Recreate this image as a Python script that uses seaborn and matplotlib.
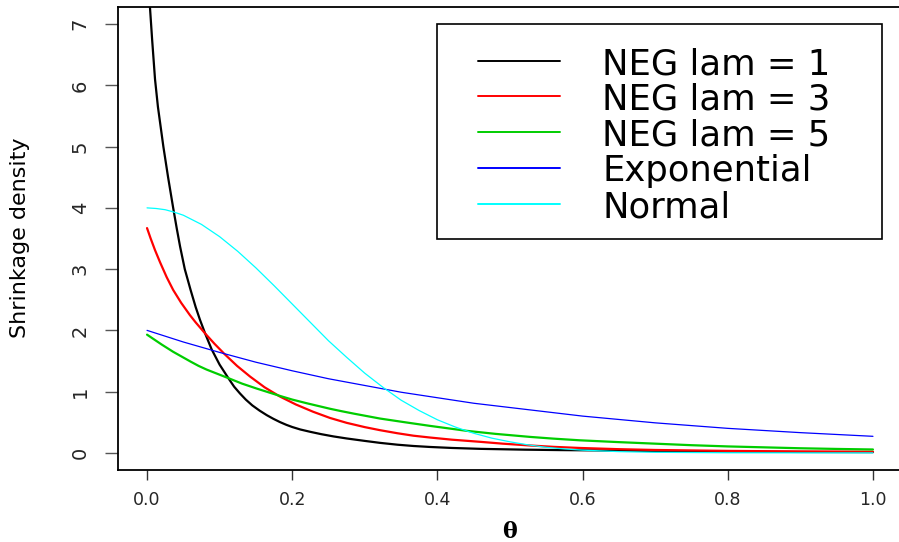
import matplotlib
matplotlib.use("Agg")
import matplotlib.pyplot as plt
from matplotlib import font_manager
from matplotlib.lines import Line2D
from matplotlib.patches import Rectangle
import seaborn as sns

# ---------------- data ----------------
theta_neg1 = [0.0, 0.002, 0.004, 0.007, 0.011, 0.015, 0.0225, 0.029, 0.036, 0.041,
              0.0455, 0.052, 0.06, 0.067, 0.073, 0.080, 0.089, 0.10, 0.112, 0.12,
              0.128, 0.136, 0.145, 0.155, 0.165, 0.174, 0.183, 0.192, 0.2, 0.211,
              0.225, 0.24, 0.257, 0.275, 0.3, 0.321, 0.345, 0.367, 0.39, 0.42,
              0.46, 0.52, 0.57, 0.62, 0.7, 0.8, 0.9, 1.0]
dens_neg1 = [8.3, 7.75, 7.28, 6.75, 6.10, 5.65, 5.0, 4.50, 4.0, 3.66,
             3.37, 3.0, 2.66, 2.38, 2.17, 1.95, 1.69, 1.44, 1.22, 1.08,
             0.97, 0.87, 0.775, 0.69, 0.615, 0.556, 0.503, 0.457, 0.422, 0.382,
             0.343, 0.305, 0.268, 0.235, 0.195, 0.163, 0.133, 0.112, 0.096, 0.08,
             0.065, 0.052, 0.045, 0.04, 0.03, 0.02, 0.015, 0.012]

theta_neg3 = [0.0, 0.005, 0.011, 0.018, 0.027, 0.036, 0.047, 0.059, 0.067, 0.080,
              0.093, 0.107, 0.124, 0.142, 0.162, 0.183, 0.205, 0.229, 0.252, 0.275,
              0.3, 0.321, 0.345, 0.367, 0.39, 0.42, 0.459, 0.49, 0.528, 0.56,
              0.596, 0.65, 0.7, 0.8, 0.9, 1.0]
dens_neg3 = [3.67, 3.50, 3.31, 3.11, 2.87, 2.66, 2.45, 2.25, 2.13, 1.95,
             1.78, 1.61, 1.42, 1.245, 1.07, 0.92, 0.79, 0.67, 0.57, 0.49,
             0.42, 0.37, 0.32, 0.28, 0.25, 0.215, 0.18, 0.15, 0.12, 0.098,
             0.08, 0.06, 0.047, 0.032, 0.023, 0.018]

theta_neg5 = [0.0, 0.01, 0.02, 0.036, 0.048, 0.06, 0.071, 0.082, 0.097, 0.112,
              0.131, 0.151, 0.167, 0.183, 0.2, 0.22, 0.236, 0.252, 0.268, 0.285,
              0.303, 0.321, 0.355, 0.39, 0.415, 0.44, 0.48, 0.528, 0.56, 0.596,
              0.65, 0.7, 0.75, 0.8, 0.85, 0.9, 0.95, 1.0]
dens_neg5 = [1.93, 1.85, 1.77, 1.65, 1.57, 1.49, 1.42, 1.36, 1.29, 1.22,
             1.13, 1.05, 0.99, 0.93, 0.87, 0.81, 0.765, 0.72, 0.68, 0.64,
             0.60, 0.56, 0.50, 0.44, 0.40, 0.36, 0.31, 0.26, 0.232, 0.205,
             0.175, 0.15, 0.125, 0.105, 0.09, 0.075, 0.064, 0.055]

theta_exp = [0.0, 0.05, 0.1, 0.15, 0.2, 0.25, 0.3, 0.35, 0.4, 0.45, 0.5,
             0.55, 0.6, 0.65, 0.7, 0.75, 0.8, 0.85, 0.9, 0.95, 1.0]
dens_exp = [2.0, 1.81, 1.64, 1.48, 1.34, 1.21, 1.10, 0.99, 0.90, 0.81, 0.74,
            0.67, 0.60, 0.545, 0.49, 0.445, 0.40, 0.365, 0.33, 0.30, 0.27]

theta_norm = [0.0, 0.0125, 0.025, 0.0375, 0.05, 0.075, 0.1, 0.125, 0.15, 0.175,
              0.2, 0.225, 0.25, 0.275, 0.3, 0.325, 0.35, 0.375, 0.4, 0.425,
              0.45, 0.475, 0.5, 0.525, 0.55, 0.575, 0.6, 0.65, 0.7, 0.8,
              0.9, 1.0]
dens_norm = [4.0, 3.99, 3.97, 3.93, 3.88, 3.73, 3.53, 3.29, 3.02, 2.73,
             2.43, 2.13, 1.83, 1.56, 1.30, 1.07, 0.86, 0.69, 0.54, 0.42,
             0.32, 0.24, 0.18, 0.13, 0.09, 0.064, 0.044, 0.02, 0.009, 0.0013,
             0.0001, 0.0]

series_labels = ["NEG lam = 1", "NEG lam = 3", "NEG lam = 5", "Exponential", "Normal"]
series_colors = ["#000000", "#FF0000", "#00CD00", "#0000FF", "#00FFFF"]
series_widths = [1.6, 1.6, 1.6, 0.9, 0.9]

x_ticks = [0.0, 0.2, 0.4, 0.6, 0.8, 1.0]
x_tick_labels = ["0.0", "0.2", "0.4", "0.6", "0.8", "1.0"]
y_ticks = [0, 1, 2, 3, 4, 5, 6, 7]
y_tick_labels = ["0", "1", "2", "3", "4", "5", "6", "7"]

# ---------------- figure ----------------
sns.set_theme(style="white")
plt.rcParams["font.family"] = ["DejaVu Sans"]
plt.rcParams["lines.solid_joinstyle"] = "round"

W, H = 899, 542
fig = plt.figure(figsize=(W / 100, H / 100), dpi=100)
fig.patch.set_facecolor("white")

def fx(px):
    return px / W

def fy(py):
    return 1 - py / H

ax_l, ax_r, ax_t, ax_b = 118, 902, 7, 470
ax = fig.add_axes([fx(ax_l), fy(ax_b), fx(ax_r - ax_l), (ax_b - ax_t) / H])
ax.set_facecolor("white")

xs = [theta_neg1, theta_neg3, theta_neg5, theta_exp, theta_norm]
ys = [dens_neg1, dens_neg3, dens_neg5, dens_exp, dens_norm]
for xv, yv, c, lw in zip(xs, ys, series_colors, series_widths):
    sns.lineplot(x=xv, y=yv, color=c, linewidth=lw, ax=ax, errorbar=None,
                 legend=False, estimator=None)

ax.set_xlim(-0.04, 1.04)
ax.set_ylim(-0.28, 7.28)

for side in ["left", "bottom", "top", "right"]:
    ax.spines[side].set_visible(True)
    ax.spines[side].set_color("black")
    ax.spines[side].set_linewidth(1.3)

ax.set_xticks(x_ticks)
ax.set_xticklabels(x_tick_labels, fontsize=12.5, family="DejaVu Sans")
ax.set_yticks(y_ticks)
ax.set_yticklabels(y_tick_labels, fontsize=14, family="DejaVu Sans",
                   rotation=90, va="center")
ax.tick_params(axis="x", direction="out", length=7.2, width=1.0, color="#333333",
               pad=8, bottom=True)
ax.tick_params(axis="y", direction="out", length=9.4, width=1.0, color="#555555",
               pad=11, left=True)
ax.grid(False)

names = {f.name for f in font_manager.fontManager.ttflist}
if "Liberation Sans Narrow" in names:
    ylab_family, ylab_size = "Liberation Sans Narrow", 19
else:
    ylab_family, ylab_size = "DejaVu Sans", 16
fig.text(fx(20), fy(238), "Shrinkage density", rotation=90, ha="center",
         va="center", fontsize=ylab_size, family=ylab_family, color="black")
fig.text(fx(510), fy(532), "θ", ha="center", va="center", fontsize=16,
         family="DejaVu Serif", fontweight="bold", color="black")

# legend (R-style box)
box = Rectangle((fx(437), fy(239)), fx(882 - 437), (239 - 24) / H,
                transform=fig.transFigure, facecolor="white", edgecolor="black",
                linewidth=1.2, zorder=5)
fig.add_artist(box)
row_y = [61, 96, 132, 168, 204]
for ry, lab, c in zip(row_y, series_labels, series_colors):
    fig.add_artist(Line2D([fx(478), fx(560)], [fy(ry), fy(ry)],
                          transform=fig.transFigure, color=c, linewidth=1.4,
                          zorder=6))
    fig.text(fx(602), fy(ry), lab, ha="left", va="center_baseline",
             fontsize=25.5, family="DejaVu Sans", color="black", zorder=7)

fig.savefig("out.png", dpi=100, facecolor="white")
